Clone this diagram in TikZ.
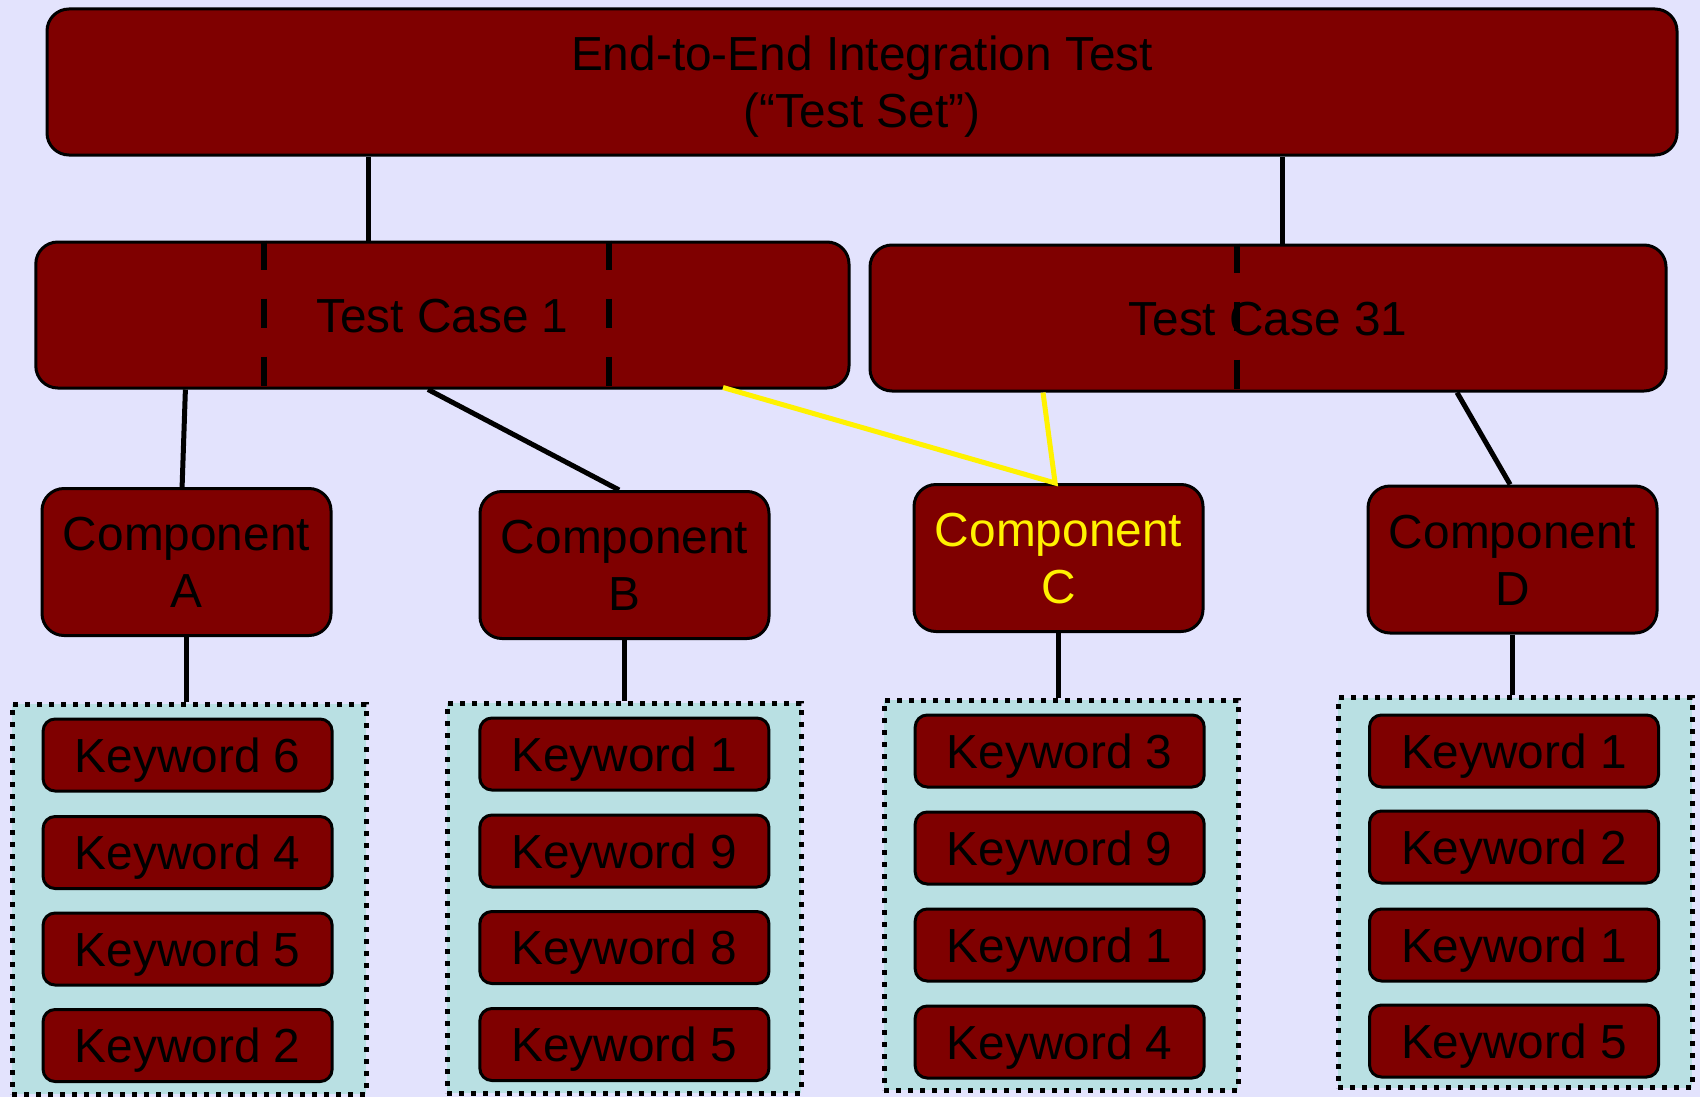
\documentclass[tikz,border=0pt]{standalone}
\usepackage{fontspec}
\setmainfont{Liberation Sans}
\usetikzlibrary{calc}
\definecolor{bg}{HTML}{E3E3FD}
\definecolor{boxred}{HTML}{7F0000}
\definecolor{grp}{HTML}{B9E0E3}
\begin{document}
\begin{tikzpicture}[x=0.5pt,y=-0.5pt,
  every node/.style={font=\fontsize{23.9}{28.5}\selectfont, text=black, inner sep=0pt, align=center, text height=17pt, text depth=0pt},
  twoline/.style={text height=45.5pt, text depth=0pt},
  bigbox/.style={draw=black, line width=1.5pt, fill=boxred, rounded corners=11pt},
  comp/.style={bigbox, twoline, minimum width=144.5pt, minimum height=73.5pt},
  kw/.style={draw=black, line width=1.5pt, fill=boxred, rounded corners=6pt, minimum width=144.5pt, minimum height=36pt},
  grpbox/.style={draw=black, fill=grp, line width=2.5pt, dash pattern=on 2.5pt off 3.5pt, minimum width=177pt, minimum height=195pt},
  link/.style={line width=2.5pt, draw=black},
  hl/.style={line width=2.5pt, draw=yellow},
  split/.style={line width=3pt, draw=black, dash pattern=on 14.5pt off 14.5pt}
]
\fill[bg] (0,0) rectangle (1700,1097);
\useasboundingbox (0,0) rectangle (1700,1097);

% top
\node[bigbox, twoline, minimum width=815pt, minimum height=73pt] (top) at (862,82) {End-to-End Integration Test\\(“Test Set”)};
\node[bigbox, minimum width=406.6pt, minimum height=73pt] (tc1) at (442.4,315) {Test Case 1};
\node[bigbox, minimum width=398pt, minimum height=73pt] (tc31) at (1268,318) {Test Case 31};

% components
\node[comp] (ca) at (186.5,562) {Component\\A};
\node[comp] (cb) at (624.5,565) {Component\\B};
\node[comp, text=yellow] (cc) at (1058.5,558) {Component\\C};
\node[comp] (cd) at (1512.5,559.5) {Component\\D};

% groups
\node[grpbox] (ga) at (189,899) {};
\node[grpbox] (gb) at (624.4,898) {};
\node[grpbox] (gc) at (1061,895) {};
\node[grpbox] (gd) at (1515,892.5) {};

% keywords
\node[kw] (ka1) at (187.6,755) {Keyword 6};
\node[kw] (ka2) at (187.6,852.5) {Keyword 4};
\node[kw] (ka3) at (187.6,949) {Keyword 5};
\node[kw] (ka4) at (187.6,1045.5) {Keyword 2};

\node[kw] (kb1) at (624.4,754) {Keyword 1};
\node[kw] (kb2) at (624.4,851) {Keyword 9};
\node[kw] (kb3) at (624.4,947.5) {Keyword 8};
\node[kw] (kb4) at (624.4,1044.5) {Keyword 5};

\node[kw] (kc1) at (1059.7,751) {Keyword 3};
\node[kw] (kc2) at (1059.7,848) {Keyword 9};
\node[kw] (kc3) at (1059.7,945) {Keyword 1};
\node[kw] (kc4) at (1059.7,1042) {Keyword 4};

\node[kw] (kd1) at (1514,751) {Keyword 1};
\node[kw] (kd2) at (1514,847) {Keyword 2};
\node[kw] (kd3) at (1514,945) {Keyword 1};
\node[kw] (kd4) at (1514,1041) {Keyword 5};

% dashed dividers in test cases
\draw[split] ([xshift=-89pt]tc1.north) -- ([xshift=-89pt]tc1.south);
\draw[split] ([xshift=83.3pt]tc1.north) -- ([xshift=83.3pt]tc1.south);
\draw[split] ([xshift=-15.5pt]tc31.north) -- ([xshift=-15.5pt]tc31.south);

% connectors
\draw[link] ([xshift=-36.9pt]tc1.north) -- ([xshift=-36.9pt]tc1.north |- top.south);
\draw[link] ([xshift=7.3pt]tc31.north) -- ([xshift=7.3pt]tc31.north |- top.south);

\draw[link] ([xshift=-128.5pt]tc1.south) -- ([xshift=-2.2pt]ca.north);
\draw[link] ([xshift=-7.2pt]tc1.south) -- ([xshift=-2.7pt]cb.north);
\draw[link] ([xshift=94.5pt]tc31.south) -- ([xshift=-1.2pt]cd.north);
\draw[hl] ([xshift=140.3pt,yshift=1pt]tc1.south) -- ([xshift=-1.7pt]cc.north) -- ([xshift=-112.5pt]tc31.south);

\draw[link] (ca.south) -- (ca.south |- ga.north);
\draw[link] (cb.south) -- (cb.south |- gb.north);
\draw[link] (cc.south) -- (cc.south |- gc.north);
\draw[link] (cd.south) -- (cd.south |- gd.north);
\end{tikzpicture}
\end{document}
